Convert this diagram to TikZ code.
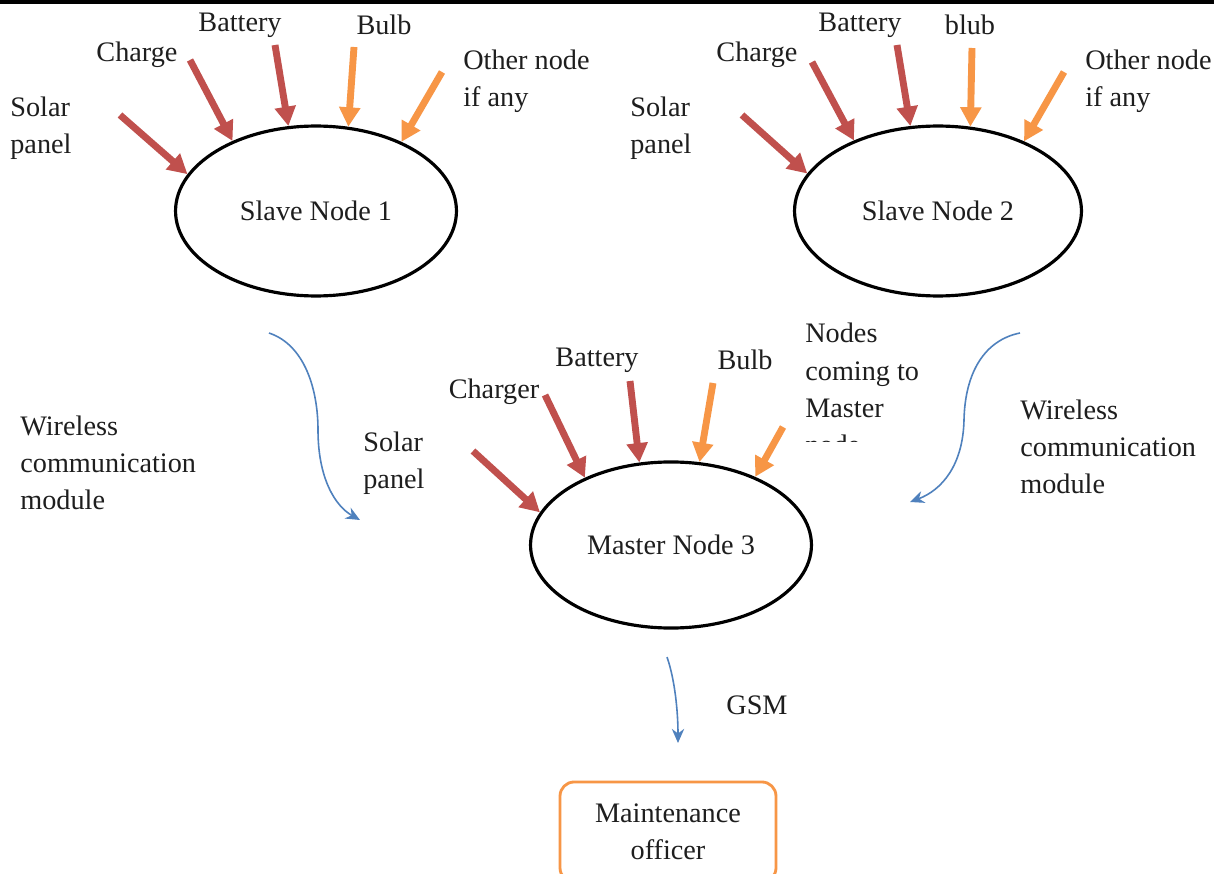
\documentclass[tikz,border=0pt]{standalone}
\usepackage{fontspec}
\setmainfont{Liberation Serif}
\usetikzlibrary{arrows.meta,shapes.geometric}
\definecolor{inred}{HTML}{C0504D}
\definecolor{inorange}{HTML}{F79646}
\definecolor{linkblue}{HTML}{4F81BD}
\definecolor{ink}{HTML}{1E1E1E}
\begin{document}
\begin{tikzpicture}[x=0.5667pt,y=-0.5667pt,
  font=\fontsize{16}{21}\selectfont,
  lbl/.style={inner sep=0pt,text=ink},
  lblL/.style={lbl,anchor=west,align=left},
  unit/.style={ellipse,draw=black,line width=1.8pt,inner sep=0pt,text=ink},
  feed/.style={line width=3.9pt,-{Triangle[length=11pt,width=11.5pt]}},
  redfeed/.style={feed,color=inred},
  orgfeed/.style={feed,color=inorange},
  wire/.style={linkblue,line width=0.9pt,-{Stealth[length=8pt,width=7pt]}},
  officebox/.style={draw=inorange,line width=1.6pt,rounded corners=8pt,fill=white,
    inner sep=0pt,align=center,text=ink,minimum width=122.4pt,minimum height=56.7pt}]
\useasboundingbox (0,0) rectangle (1214,874);
\clip (0,0) rectangle (1214,874);
\fill[white] (0,0) rectangle (1214,874);
\fill[black] (0,0) rectangle (1214,4);

% ---------- slave node 1 ----------
\node[unit,minimum width=159.2pt,minimum height=96.3pt] (s1) at (316,211) {Slave Node 1};
\coordinate (s1a) at (120,115);
\coordinate (s1b) at (190,60);
\coordinate (s1c) at (275,45);
\coordinate (s1d) at (354,47);
\coordinate (s1e) at (442,72);
\draw[redfeed] (s1a) -- (s1.164);
\draw[redfeed] (s1b) -- (s1.140);
\draw[redfeed] (s1c) -- (s1.108);
\draw[orgfeed] (s1d) -- (s1.69);
\draw[orgfeed] (s1e) -- (s1.39);
\node[lblL] (s1sol) at (10,128) {Solar\\panel};
\node[lbl] (s1chg) at (137,55) {Charge};
\node[lbl] (s1bat) at (240,25) {Battery};
\node[lbl] (s1blb) at (384,25) {Bulb};
\node[lblL] (s1oth) at (463,81) {Other node\\if any};

% ---------- slave node 2 ----------
\node[unit,minimum width=162.6pt,minimum height=96.3pt] (s2) at (938,211) {Slave Node 2};
\coordinate (s2a) at (742,115);
\coordinate (s2b) at (812,62);
\coordinate (s2c) at (897,45);
\coordinate (s2d) at (972,48);
\coordinate (s2e) at (1064,72);
\draw[redfeed] (s2a) -- (s2.164);
\draw[redfeed] (s2b) -- (s2.140);
\draw[redfeed] (s2c) -- (s2.108);
\draw[orgfeed] (s2d) -- (s2.69);
\draw[orgfeed] (s2e) -- (s2.39);
\node[lblL] (s2sol) at (630,128) {Solar\\panel};
\node[lbl] (s2chg) at (757,55) {Charge};
\node[lbl] (s2bat) at (860,25) {Battery};
\node[lbl] (s2blb) at (970,25) {blub};
\node[lblL] (s2oth) at (1085,81) {Other node\\if any};

% ---------- master node 3 ----------
\node[unit,minimum width=159.2pt,minimum height=94.1pt] (m3) at (671,545) {Master Node 3};
\coordinate (m3a) at (473,451);
\coordinate (m3b) at (545,395);
\coordinate (m3c) at (630,381);
\coordinate (m3d) at (713,383);
\coordinate (m3e) at (783,427);
\draw[redfeed] (m3a) -- (m3.166);
\draw[redfeed] (m3b) -- (m3.142);
\draw[redfeed] (m3c) -- (m3.111);
\draw[orgfeed] (m3d) -- (m3.71);
\draw[orgfeed] (m3e) -- (m3.39);
\node[lblL] (m3sol) at (363,463) {Solar\\panel};
\node[lbl] (m3chg) at (494,392) {Charger};
\node[lbl] (m3bat) at (597,360) {Battery};
\node[lbl] (m3blb) at (745,360) {Bulb};
\begin{scope}
  \clip (790,300) rectangle (1000,441);
  \node[lbl,anchor=north west,align=left] (m3oth) at (805,323) {Nodes\\coming to\\Master\\node};
\end{scope}

% ---------- wireless links ----------
\coordinate (w1s) at (269,333);
\coordinate (w1e) at (360,520);
\draw[wire] (w1s) .. controls (305,345) and (318,390) .. (318,430)
               .. controls (318,478) and (335,506) .. (w1e);
\node[lblL] (w1l) at (20,463) {Wireless\\communication\\module};

\coordinate (w2s) at (1020,333);
\coordinate (w2e) at (910,502);
\draw[wire] (w2s) .. controls (985,340) and (965,372) .. (964,420)
               .. controls (963,465) and (942,490) .. (w2e);
\node[lblL] (w2l) at (1020,447) {Wireless\\communication\\module};

% ---------- GSM to maintenance ----------
\coordinate (gs) at (667,657);
\coordinate (ge) at (678,743);
\draw[wire] (gs) .. controls (675,680) and (678,712) .. (ge);
\node[lbl] (gsm) at (757,705) {GSM};
\node[officebox] (mo) at (668,832) {Maintenance\\officer};
\end{tikzpicture}
\end{document}
